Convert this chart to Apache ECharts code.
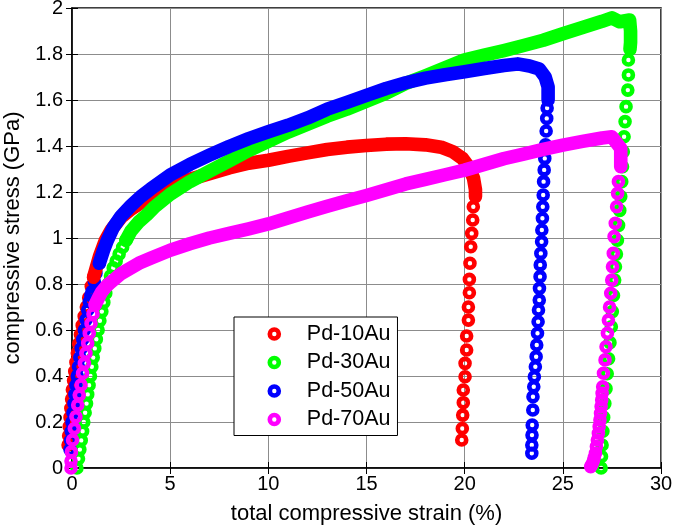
<!DOCTYPE html>
<html>
<head>
<meta charset="utf-8">
<title>Compressive stress-strain curves of Pd-Au alloys</title>
<script src="https://cdn.jsdelivr.net/npm/echarts@6/dist/echarts.min.js"></script>
<style>
  html, body { margin: 0; padding: 0; background: #fff; }
  #chart { width: 675px; height: 527px; }
</style>
</head>
<body>
<div id="chart"></div>
<script>
// Sample names (legend order) and colours
const sampleNames = ['Pd-10Au', 'Pd-30Au', 'Pd-50Au', 'Pd-70Au'];
const sampleColors = ['#ff0000', '#00ff00', '#0000ff', '#ff00ff'];

// Axis ranges and tick steps: strain in %, stress in GPa
const strainTicks = [0, 5, 10, 15, 20, 25, 30];
const stressTicks = [0, 0.2, 0.4, 0.6, 0.8, 1, 1.2, 1.4, 1.6, 1.8, 2];

// Each curve: [strain %, stress GPa]
// Elastic loading (individual samples still distinguishable)
const pd10Elastic = [[-0.2,0.1],[-0.17,0.14],[-0.14,0.18],[-0.1,0.22],[-0.06,0.26],[-0.02,0.3],[0.02,0.34],[0.08,0.38],[0.14,0.42],[0.2,0.46],[0.27,0.5],[0.34,0.54],[0.43,0.58],[0.52,0.62],[0.62,0.66],[0.73,0.7],[0.85,0.74],[0.98,0.79],[1.1,0.83]];
// Plastic flow (densely sampled, appears as a continuous band)
const pd10Flow = [[1.1,0.83],[1.4,0.92],[1.7,0.99],[2.0,1.035],[2.5,1.09],[3,1.125],[4,1.18],[5,1.225],[6,1.255],[7,1.28],[8,1.305],[9,1.325],[10,1.338],[11,1.355],[12,1.37],[13,1.385],[14,1.395],[15,1.402],[16,1.408],[17,1.41],[18,1.405],[18.8,1.395],[19.4,1.375],[19.9,1.345],[20.2,1.31],[20.45,1.26],[20.55,1.21],[20.55,1.18]];
// Unloading after failure
const pd10Unload = [[20.44,1.136],[20.41,1.078],[20.36,1.02],[20.31,0.962],[20.27,0.89],[20.24,0.82],[20.24,0.762],[20.19,0.70],[20.19,0.643],[20.1,0.574],[20.1,0.513],[20.02,0.455],[20.02,0.397],[19.93,0.339],[19.93,0.284],[19.9,0.23],[19.88,0.172],[19.85,0.122]];

const pd30Elastic = [[0.25,0.0],[0.33,0.04],[0.4,0.08],[0.47,0.12],[0.54,0.16],[0.6,0.2],[0.67,0.24],[0.74,0.28],[0.8,0.32],[0.87,0.36],[0.94,0.4],[1.01,0.44],[1.08,0.48],[1.16,0.52],[1.24,0.56],[1.33,0.6],[1.42,0.64],[1.52,0.68],[1.62,0.72],[1.72,0.76],[1.84,0.8],[1.96,0.835],[2.1,0.87],[2.25,0.9],[2.4,0.93],[2.58,0.96],[2.75,0.99]];
const pd30Flow = [[2.75,0.99],[3.0,1.03],[3.4,1.07],[3.8,1.1],[4.2,1.135],[5,1.19],[6,1.245],[7,1.29],[8,1.335],[9,1.38],[10,1.42],[11,1.46],[12,1.495],[13,1.53],[14,1.56],[15,1.595],[16,1.63],[17,1.672],[18,1.705],[19,1.74],[20,1.775],[21,1.795],[22,1.815],[23,1.837],[24,1.86],[25,1.888],[26,1.915],[27,1.942],[27.5,1.957],[27.9,1.94],[28.4,1.948],[28.45,1.9],[28.45,1.85],[28.42,1.82]];
const pd30Unload = [[28.34,1.774],[28.34,1.709],[28.31,1.643],[28.22,1.571],[28.17,1.506],[28.12,1.44],[28.08,1.375],[28.04,1.31],[28.0,1.245],[27.95,1.18],[27.9,1.12],[27.84,1.055],[27.78,0.99],[27.73,0.93],[27.68,0.875],[27.64,0.817],[27.58,0.75],[27.52,0.68],[27.47,0.614],[27.4,0.545],[27.33,0.475],[27.26,0.41],[27.2,0.345],[27.14,0.28],[27.08,0.22],[27.04,0.16],[27.0,0.1],[26.97,0.05],[26.95,0.0]];

const pd50Elastic = [[-0.1,0.08],[-0.07,0.12],[-0.04,0.16],[0.0,0.2],[0.05,0.24],[0.1,0.28],[0.15,0.32],[0.2,0.36],[0.27,0.4],[0.33,0.44],[0.4,0.48],[0.47,0.52],[0.55,0.56],[0.63,0.6],[0.72,0.645],[0.8,0.687],[0.88,0.723],[0.96,0.75],[1.02,0.767],[1.14,0.81],[1.22,0.847],[1.39,0.89]];
const pd50Flow = [[1.39,0.89],[1.6,0.945],[1.8,0.99],[2.1,1.045],[2.5,1.095],[3,1.14],[3.5,1.18],[4,1.213],[5,1.274],[6,1.32],[7,1.36],[8,1.398],[9,1.432],[10,1.462],[11,1.49],[12,1.522],[13,1.56],[14,1.59],[15,1.62],[16,1.65],[17,1.675],[18,1.695],[19,1.71],[20,1.723],[21,1.737],[22,1.75],[22.7,1.757],[23.3,1.748],[23.8,1.735],[24.1,1.7],[24.25,1.657],[24.25,1.6]];
const pd50Unload = [[24.2,1.565],[24.18,1.52],[24.15,1.465],[24.12,1.405],[24.08,1.346],[24.05,1.296],[24.02,1.245],[24.0,1.187],[23.98,1.136],[23.96,1.086],[23.93,1.035],[23.92,0.984],[23.88,0.933],[23.85,0.883],[23.84,0.832],[23.81,0.781],[23.8,0.73],[23.76,0.687],[23.74,0.636],[23.71,0.586],[23.67,0.535],[23.64,0.484],[23.6,0.44],[23.55,0.397],[23.52,0.353],[23.48,0.31],[23.47,0.252],[23.44,0.187],[23.43,0.143],[23.42,0.1],[23.42,0.064]];

const pd70Elastic = [[-0.05,0.0],[-0.05,0.03],[-0.03,0.07],[0.03,0.122],[0.12,0.172],[0.2,0.223],[0.29,0.274],[0.37,0.317],[0.46,0.361],[0.54,0.412],[0.63,0.455],[0.71,0.499],[0.8,0.542],[0.88,0.586],[0.97,0.628],[1.07,0.67],[1.18,0.71]];
const pd70Flow = [[1.18,0.71],[1.35,0.74],[1.51,0.765],[1.75,0.79],[1.94,0.805],[2.5,0.845],[3.4,0.89],[4,0.912],[5,0.947],[6,0.975],[7,1.0],[8,1.02],[9,1.04],[10,1.061],[11,1.087],[12,1.113],[13,1.138],[14,1.162],[15,1.185],[16,1.21],[17,1.235],[18,1.255],[19,1.275],[20,1.295],[21,1.32],[22,1.345],[23,1.365],[24,1.385],[25,1.404],[26,1.42],[27,1.435],[27.5,1.44],[27.95,1.39],[27.95,1.31]];
const pd70Unload = [[27.83,1.245],[27.79,1.194],[27.74,1.136],[27.67,1.064],[27.61,1.006],[27.57,0.933],[27.53,0.875],[27.49,0.817],[27.44,0.76],[27.38,0.70],[27.32,0.643],[27.27,0.586],[27.2,0.527],[27.15,0.47],[27.07,0.412],[27.03,0.353],[27.0,0.325],[26.98,0.296],[26.95,0.267],[26.92,0.238],[26.89,0.209],[26.85,0.18],[26.81,0.151],[26.76,0.122],[26.71,0.093],[26.66,0.064],[26.6,0.045],[26.55,0.03],[26.48,0.015],[26.42,0.006]];

const elasticSets = [pd10Elastic, pd30Elastic, pd50Elastic, pd70Elastic];
const flowSets = [pd10Flow, pd30Flow, pd50Flow, pd70Flow];
const unloadSets = [pd10Unload, pd30Unload, pd50Unload, pd70Unload];

const fontFamily = '"Liberation Sans", Arial, Helvetica, sans-serif';

const series = [];
sampleNames.forEach(function (name, i) {
  // individual open "o" markers (elastic part and unloading part)
  series.push({
    name: name,
    type: 'scatter',
    data: elasticSets[i].concat(unloadSets[i]),
    symbol: 'circle',
    symbolSize: 9,
    itemStyle: { color: 'rgba(255,255,255,0)', borderColor: sampleColors[i], borderWidth: 4.6, opacity: 1 },
    clip: false,
    silent: true
  });
  // densely overlapping markers of the plastic flow region
  series.push({
    name: name,
    type: 'line',
    data: flowSets[i],
    showSymbol: false,
    symbol: 'none',
    lineStyle: { color: sampleColors[i], width: 13.6, cap: 'round', join: 'round', opacity: 1 },
    clip: false,
    silent: true
  });
});

const chart = echarts.init(document.getElementById('chart'), null, { renderer: 'canvas' });
chart.setOption({
  animation: false,
  backgroundColor: '#ffffff',
  grid: {
    left: 72, right: 14, top: 8, bottom: 59,
    containLabel: false, outerBoundsMode: 'none',
    show: true, borderColor: '#000', borderWidth: 1.5, backgroundColor: 'transparent'
  },
  legend: {
    data: sampleNames,
    orient: 'vertical',
    left: 234, top: 317,
    padding: [6, 7, 5, 33.5],
    itemWidth: 9, itemHeight: 9, itemGap: 6.5,
    backgroundColor: '#ffffff',
    borderColor: '#000000', borderWidth: 1,
    borderRadius: 0,
    selectedMode: false,
    itemStyle: { borderWidth: 4.6, opacity: 1 },
    textStyle: { fontFamily: fontFamily, fontSize: 21.5, color: '#000', padding: [0, 0, 0, 23] }
  },
  xAxis: [{
    type: 'value',
    min: strainTicks[0], max: strainTicks[strainTicks.length - 1], interval: 5,
    name: 'total compressive strain (%)',
    nameLocation: 'middle', nameGap: 35,
    nameTextStyle: { fontFamily: fontFamily, fontSize: 22, color: '#000' },
    axisLine: { show: true, lineStyle: { color: '#000', width: 1.5 } },
    axisTick: { show: true, inside: true, length: 6, lineStyle: { color: '#000' } },
    axisLabel: { fontFamily: fontFamily, fontSize: 20, color: '#000', margin: 6 },
    splitLine: { show: true, lineStyle: { color: '#8c8c8c', width: 1 } }
  }, {
    type: 'value', position: 'top',
    min: strainTicks[0], max: strainTicks[strainTicks.length - 1], interval: 5,
    axisLine: { show: false },
    axisTick: { show: true, inside: true, length: 6, lineStyle: { color: '#000' } },
    axisLabel: { show: false }, splitLine: { show: false }
  }],
  yAxis: [{
    type: 'value',
    min: stressTicks[0], max: stressTicks[stressTicks.length - 1], interval: 0.2,
    name: 'compressive stress (GPa)',
    nameLocation: 'middle', nameGap: 37,
    nameTextStyle: { fontFamily: fontFamily, fontSize: 22, color: '#000' },
    axisLine: { show: true, lineStyle: { color: '#000', width: 1.5 } },
    axisTick: { show: true, inside: true, length: 6, lineStyle: { color: '#000' } },
    axisLabel: { fontFamily: fontFamily, fontSize: 20, color: '#000', margin: 9 },
    splitLine: { show: true, lineStyle: { color: '#8c8c8c', width: 1 } }
  }, {
    type: 'value', position: 'right',
    min: stressTicks[0], max: stressTicks[stressTicks.length - 1], interval: 0.2,
    axisLine: { show: false },
    axisTick: { show: true, inside: true, length: 6, lineStyle: { color: '#000' } },
    axisLabel: { show: false }, splitLine: { show: false }
  }],
  series: series
});
</script>
</body>
</html>
